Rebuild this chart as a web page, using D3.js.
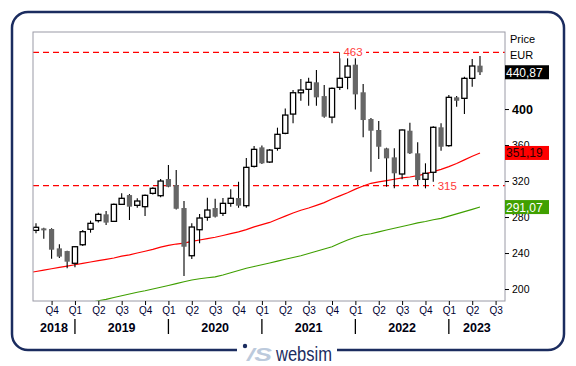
<!DOCTYPE html>
<html>
<head>
<meta charset="utf-8">
<script src="https://cdn.jsdelivr.net/npm/d3@7"></script>
<style>
body { margin: 0; background: #fff; }
svg { display: block; font-family: Arial, "Liberation Sans", sans-serif; }
</style>
</head>
<body>
<div class="canvas"></div>
<script>
// monthly candles, Aug 2018 .. May 2023
const months = ["2018-08","2018-09","2018-10","2018-11","2018-12",
  "2019-01","2019-02","2019-03","2019-04","2019-05","2019-06","2019-07","2019-08","2019-09","2019-10","2019-11","2019-12",
  "2020-01","2020-02","2020-03","2020-04","2020-05","2020-06","2020-07","2020-08","2020-09","2020-10","2020-11","2020-12",
  "2021-01","2021-02","2021-03","2021-04","2021-05","2021-06","2021-07","2021-08","2021-09","2021-10","2021-11","2021-12",
  "2022-01","2022-02","2022-03","2022-04","2022-05","2022-06","2022-07","2022-08","2022-09","2022-10","2022-11","2022-12",
  "2023-01","2023-02","2023-03","2023-04","2023-05"]

const open  = [265.2,267.4,266.7,245.2,242.2, 228.6,249.2,266.4,276,283,275.2,294.1,304.4,293,291.5,306.3,303.7,
  322.2,315.6,290,237,265.9,279.7,290,284.1,295.2,301.1,292.6,336.3,
  357.4,341.1,356.3,373,394.4,418.1,421.9,429.7,414.4,391,424.1,435.2,
  449.3,418.6,388.9,376.7,356.3,346.3,327.8,375.9,350.8,321.9,329.7,379.7,
  359.3,413,411.9,434.1,448.2]
const high  = [273,268,267.5,249.7,242.5, 247.5,265.6,276,284.8,286.7,295,306.3,305.5,300.8,305,313,322.2,
  337.8,332.2,297.8,273,283.3,301.5,300.4,301.1,310.8,319.2,345.6,358.9,
  359.6,355.5,379.3,400.7,421.1,433.3,434.9,443.3,426.7,424,463,458.1,
  460,427.8,390,386.7,357,356.3,377.4,384.8,363,339.7,381,384.1,
  415.6,414.5,436,455.6,458.9]
const low   = [262,256,233.7,234.4,223, 224.1,247.8,262.6,273.8,271.1,274.5,293.5,276.7,290.3,281.1,305,302,
  313,288.5,214.4,233.3,250.8,276,279.5,281.1,291.5,290.3,290.3,335,
  339,340,353.7,372,384.1,409.2,403.7,403.7,390.3,384.1,421.1,421.9,
  399.5,368.6,330.4,344.4,313.7,312,321.9,350,315.6,311.9,319.2,353.7,
  358,402.6,394.4,424.8,437.8]
const close = [268.6,265.2,243.7,236,230.4, 247,263.7,273,283,273.8,294.1,300.8,291.5,297.8,304.1,311.9,320,
  313.7,289.2,247,268.9,278.9,287.8,280.4,295.2,300.8,292.6,335.2,355.2,
  339.7,354.4,371.9,393.3,418.1,421.1,429.7,413,391.5,423,434.1,447.8,
  416.3,387.8,375.9,358.1,345.2,328.6,376.7,350.8,321.1,328.6,379.7,358.1,
  413,409.2,434.1,447.8,440.87]

// moving averages, starting Jul 2018 (red) and Mar 2019 (green)
const maRed = [218,219.5,221,222.5,224,225.5, 227,228.5,230,231.5,233,234.5,236.5,238,240,242,244,246.5,
  248.5,250,251,253,254.5,256,257.5,259.5,261.5,263.5,266,269,
  271.5,274,277.5,281,284.5,287.5,290,293,296,300,303.5,307,
  311,314.5,317.5,319,320.5,322,323.5,324.5,326,328,330.5,333,
  336,339.5,343.5,347.5,351.19]
const maGreen = [185,187,188.5,190.5,192.5,194.5,196.5,198,200,202,
  204,206,208,210,211.5,212.5,213.5,215.5,218,220.5,223,225,
  227,229,231,233,235,237,239.5,242,244.5,247,251,254.5,
  257.5,260,261.5,263.5,265.5,267.5,269.5,271.5,273.5,275,277,278.5,
  281,283.5,286,288.5,291.07]

const levels = [463, 315]
const years = ["2018","2019","2020","2021","2022","2023"]
// 440 sits behind the last-price box in the reference, so it is left out
const yTicks = [200, 240, 280, 320, 360, 400]

const W = 576, H = 366
const pLeft = 33, pRight = 505, pTop = 32, pBottom = 301

const svg = d3.select(".canvas").append("svg")
    .attr("width", W)
    .attr("height", H)

// outer frame with a gap for the logo
const fr = {x0: 12, y0: 12, x1: 564, y1: 350, r: 16}
svg.append("path")
    .attr("d", `M237,${fr.y1} H${fr.x0 + fr.r} A${fr.r},${fr.r} 0 0 1 ${fr.x0},${fr.y1 - fr.r}
      V${fr.y0 + fr.r} A${fr.r},${fr.r} 0 0 1 ${fr.x0 + fr.r},${fr.y0}
      H${fr.x1 - fr.r} A${fr.r},${fr.r} 0 0 1 ${fr.x1},${fr.y0 + fr.r}
      V${fr.y1 - fr.r} A${fr.r},${fr.r} 0 0 1 ${fr.x1 - fr.r},${fr.y1} H337`)
    .attr("fill", "none")
    .attr("stroke", "#1b2c5f")
    .attr("stroke-width", 2.5)

const x = d3.scaleLinear().domain([0, 57]).range([36, 480])
const y = d3.scaleLinear().domain([186.7, 485.6]).range([pBottom, pTop])

svg.append("clipPath").attr("id", "plotclip")
  .append("rect")
    .attr("x", pLeft).attr("y", pTop)
    .attr("width", pRight - pLeft).attr("height", pBottom - pTop)

const plot = svg.append("g").attr("clip-path", "url(#plotclip)")

// support / resistance levels
plot.selectAll(".lvl").data(levels).join("line")
    .attr("x1", pLeft).attr("x2", pRight)
    .attr("y1", d => y(d)).attr("y2", d => y(d))
    .attr("stroke", "#ff0000")
    .attr("stroke-width", 1.3)
    .attr("stroke-dasharray", "6,4")

// moving averages
const line = d3.line().x(d => x(d.i)).y(d => y(d.v))
plot.append("path")
    .attr("d", line(maRed.map((v, k) => ({i: k - 1, v}))))
    .attr("fill", "none").attr("stroke", "#ff0000").attr("stroke-width", 1.2)
plot.append("path")
    .attr("d", line(maGreen.map((v, k) => ({i: k + 7, v}))))
    .attr("fill", "none").attr("stroke", "#3f9f00").attr("stroke-width", 1.1)

// candles
const candles = months.map((m, i) => ({i, o: open[i], h: high[i], l: low[i], c: close[i]}))
const cg = plot.selectAll(".candle").data(candles).join("g")
cg.append("line")
    .attr("x1", d => x(d.i)).attr("x2", d => x(d.i))
    .attr("y1", d => y(d.h)).attr("y2", d => y(d.l))
    .attr("stroke", "#000").attr("stroke-width", 1.1)
cg.append("rect")
    .attr("x", d => x(d.i) - 2.6)
    .attr("width", 5.2)
    .attr("y", d => y(Math.max(d.o, d.c)))
    .attr("height", d => Math.max(1, Math.abs(y(d.o) - y(d.c))))
    .attr("fill", d => d.c >= d.o ? "#fff" : "#666")
    .attr("stroke", d => d.c >= d.o ? "#000" : "none")
    .attr("stroke-width", 1.3)

// level labels
const lvlLabelAt = [40.7, 52.8]
levels.forEach((v, k) => {
  svg.append("rect")
      .attr("x", x(lvlLabelAt[k]) - 13).attr("y", y(v) - 6)
      .attr("width", 26).attr("height", 12)
      .attr("fill", "#fff")
  svg.append("text")
      .attr("x", x(lvlLabelAt[k])).attr("y", y(v) + 4)
      .attr("text-anchor", "middle")
      .attr("fill", "#ff3a3a")
      .style("font-size", "11.5px")
      .text(v)
})

// plot border
svg.append("rect")
    .attr("x", pLeft).attr("y", pTop)
    .attr("width", pRight - pLeft).attr("height", pBottom - pTop)
    .attr("fill", "none").attr("stroke", "#9a9aa6").attr("stroke-width", 1)

// y axis
const yAxis = svg.append("g")
    .attr("transform", `translate(${pRight},0)`)
    .call(d3.axisRight(y).tickValues(yTicks).tickSize(4).tickPadding(3))
yAxis.select(".domain").remove()
yAxis.selectAll("text")
    .style("font-size", d => d === 400 ? "12.5px" : "10.5px")
    .style("font-weight", d => d === 400 ? "bold" : "normal")
    .attr("fill", "#000")
yAxis.selectAll("line").attr("stroke", "#000")

svg.append("text").attr("x", 510).attr("y", 43).style("font-size", "11px").text("Price")
svg.append("text").attr("x", 510).attr("y", 59).style("font-size", "11px").text("EUR")

// last-value boxes
const tags = [
  {v: close[close.length - 1], bg: "#000", fg: "#fff"},
  {v: maRed[maRed.length - 1], bg: "#ff0000", fg: "#2a0000"},
  {v: maGreen[maGreen.length - 1], bg: "#40a000", fg: "#fff"}
]
tags.forEach(t => {
  svg.append("rect")
      .attr("x", pRight).attr("y", y(t.v) - 7)
      .attr("width", 44).attr("height", 14)
      .attr("fill", t.bg)
  svg.append("text")
      .attr("x", pRight + 1).attr("y", y(t.v) + 4.5)
      .attr("fill", t.fg)
      .style("font-size", "12px")
      .text(d3.format(".2f")(t.v).replace(".", ","))
})

// x axis: quarters
const qTicks = d3.range(2, 60, 3)
const xAxis = svg.append("g")
    .attr("transform", `translate(0,${pBottom})`)
    .call(d3.axisBottom(x).tickValues(qTicks).tickSize(4).tickPadding(2)
      .tickFormat(i => "Q" + (Math.floor(((i + 7) % 12) / 3) + 1)))
xAxis.select(".domain").remove()
xAxis.selectAll("line").attr("stroke", "#000")
xAxis.selectAll("text").style("font-size", "10px").attr("fill", "#000033")

// years
const yearStarts = [5, 17, 29, 41, 53]
svg.selectAll(".ysep").data(yearStarts).join("line")
    .attr("x1", d => x(d)).attr("x2", d => x(d))
    .attr("y1", 319).attr("y2", 334)
    .attr("stroke", "#000").attr("stroke-width", 1.3)
const bounds = [pLeft, ...yearStarts.map(d => x(d)), pRight]
svg.selectAll(".ylab").data(years).join("text")
    .attr("x", (d, k) => (bounds[k] + bounds[k + 1]) / 2)
    .attr("y", 332)
    .attr("text-anchor", "middle")
    .style("font-size", "12.5px")
    .style("font-weight", "bold")
    .attr("fill", "#000011")
    .text(d => d)

// logo
const logo = svg.append("g")
logo.append("circle").attr("cx", 245).attr("cy", 346).attr("r", 2.2).attr("fill", "#1b2c5f")
logo.append("text")
    .attr("x", 247).attr("y", 361)
    .style("font-size", "19px").style("font-weight", "bold").style("font-style", "italic")
    .attr("fill", "#bccadc")
    .attr("textLength", 25).attr("lengthAdjust", "spacingAndGlyphs")
    .text("/S")
logo.append("text")
    .attr("x", 276).attr("y", 361)
    .style("font-size", "20px")
    .attr("fill", "#1b2c5f")
    .attr("textLength", 56).attr("lengthAdjust", "spacingAndGlyphs")
    .text("websim")
</script>
</body>
</html>
